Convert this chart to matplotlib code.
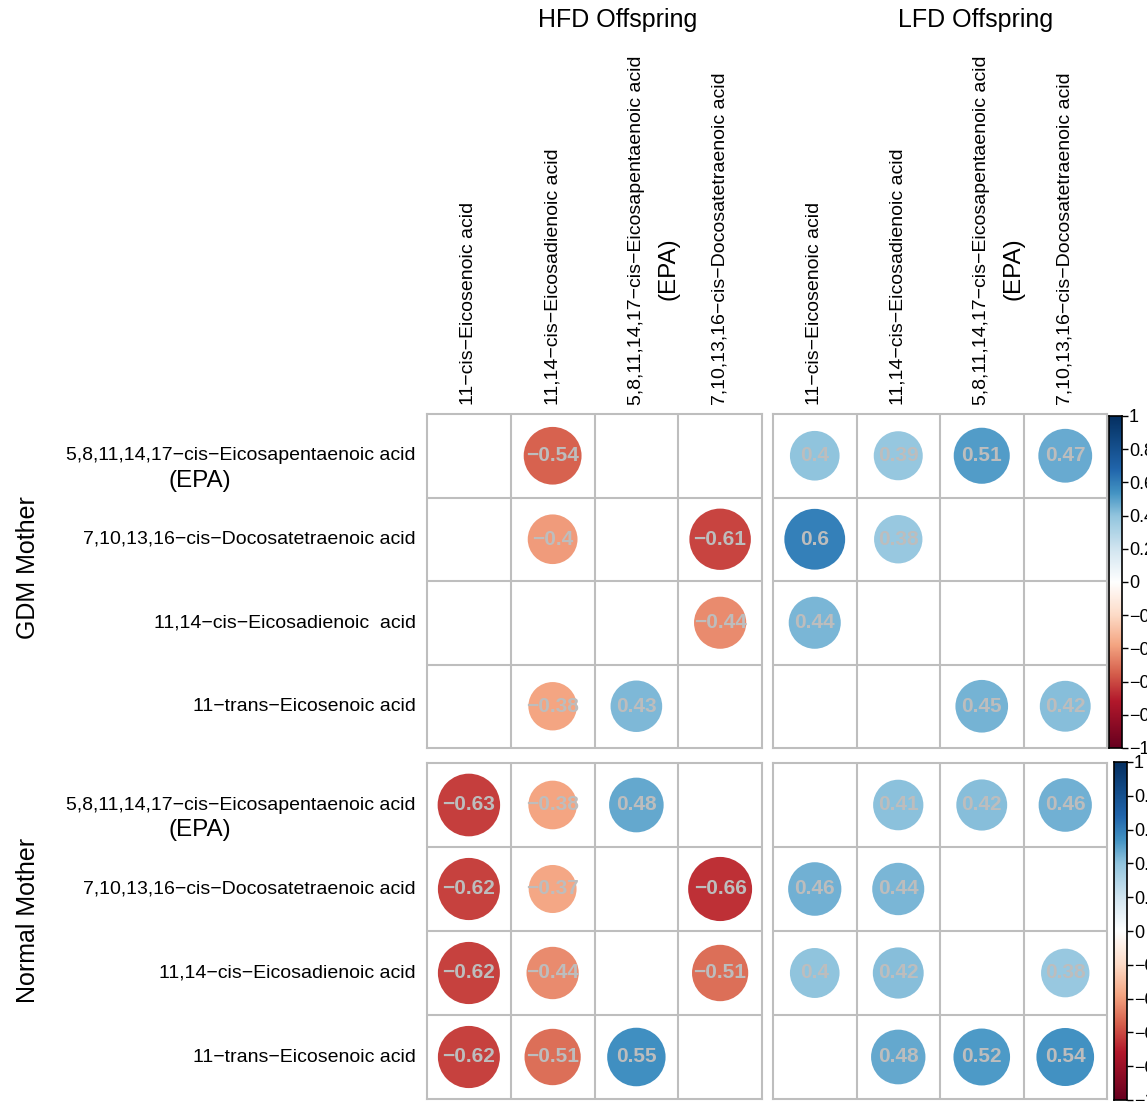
import matplotlib
matplotlib.use('Agg')
import matplotlib.pyplot as plt
from matplotlib.colors import LinearSegmentedColormap
from matplotlib.patches import Circle
import numpy as np

plt.rcParams['font.family'] = ['Liberation Sans', 'DejaVu Sans']

W, H = 1147, 1103
nan = np.nan

# ---- data ----
offspring_groups = ['HFD Offspring', 'LFD Offspring']
mother_groups = ['GDM Mother', 'Normal Mother']
col_labels = ['11−cis−Eicosenoic acid',
              '11,14−cis−Eicosadienoic acid',
              '5,8,11,14,17−cis−Eicosapentaenoic acid\n(EPA)',
              '7,10,13,16−cis−Docosatetraenoic acid']
row_labels_gdm = ['5,8,11,14,17−cis−Eicosapentaenoic acid\n(EPA)',
                  '7,10,13,16−cis−Docosatetraenoic acid',
                  '11,14−cis−Eicosadienoic  acid',
                  '11−trans−Eicosenoic acid']
row_labels_normal = ['5,8,11,14,17−cis−Eicosapentaenoic acid\n(EPA)',
                     '7,10,13,16−cis−Docosatetraenoic acid',
                     '11,14−cis−Eicosadienoic acid',
                     '11−trans−Eicosenoic acid']

gdm_hfd = [[nan, -0.54, nan, nan],
           [nan, -0.40, nan, -0.61],
           [nan, nan, nan, -0.44],
           [nan, -0.38, 0.43, nan]]
gdm_lfd = [[0.40, 0.39, 0.51, 0.47],
           [0.60, 0.38, nan, nan],
           [0.44, nan, nan, nan],
           [nan, nan, 0.45, 0.42]]
normal_hfd = [[-0.63, -0.38, 0.48, nan],
              [-0.62, -0.37, nan, -0.66],
              [-0.62, -0.44, nan, -0.51],
              [-0.62, -0.51, 0.55, nan]]
normal_lfd = [[nan, 0.41, 0.42, 0.46],
              [0.46, 0.44, nan, nan],
              [0.40, 0.42, nan, 0.38],
              [nan, 0.48, 0.52, 0.54]]

cbar_ticks = [1, 0.8, 0.6, 0.4, 0.2, 0, -0.2, -0.4, -0.6, -0.8, -1]

# red-white-blue scale, anchors tuned to the picture (value -> colour)
anchors = [(-1.0, '#67001F'), (-0.72, '#B2182B'), (-0.55, '#D6604D'),
           (-0.38, '#F4A582'), (-0.2, '#FDDBC7'), (0.0, '#FFFFFF'),
           (0.2, '#D1E5F0'), (0.4, '#92C5DE'), (0.54, '#4393C3'),
           (0.68, '#2166AC'), (1.0, '#053061')]
cmap = LinearSegmentedColormap.from_list(
    'corr_rdbu', [((v + 1) / 2, c) for v, c in anchors])

GRID = '#BEBEBE'
TXT = '#BDBDBD'

fig = plt.figure(figsize=(W / 100, H / 100), dpi=100)


def frac(box):
    x0, y0, x1, y1 = box
    return [x0 / W, 1 - y1 / H, (x1 - x0) / W, (y1 - y0) / H]


def fmt(v):
    return f'{v:g}'.replace('-', '−')


def draw_panel(box, vals):
    ax = fig.add_axes(frac(box))
    ax.set_xlim(0, 4)
    ax.set_ylim(4, 0)
    ax.set_xticks([])
    ax.set_yticks([])
    for s in ax.spines.values():
        s.set_color(GRID)
        s.set_linewidth(1.5)
    for k in range(1, 4):
        ax.axvline(k, color=GRID, lw=1.5)
        ax.axhline(k, color=GRID, lw=1.5)
    for i in range(4):
        for j in range(4):
            v = vals[i][j]
            if np.isnan(v):
                continue
            r = 0.47 * np.sqrt(abs(v))
            ax.add_patch(Circle((j + 0.5, i + 0.5), r, facecolor=cmap((v + 1) / 2),
                                edgecolor='none', zorder=3))
            ax.text(j + 0.5, i + 0.5, fmt(v), ha='center', va='center',
                    fontsize=15, fontweight='bold', color=TXT, zorder=4)
    return ax


def draw_cbar(box):
    cax = fig.add_axes(frac(box))
    grad = np.linspace(-1, 1, 256).reshape(-1, 1)
    cax.imshow(grad, cmap=cmap, vmin=-1, vmax=1, aspect='auto', origin='lower',
               extent=[0, 1, -1, 1])
    cax.set_xticks([])
    cax.yaxis.tick_right()
    cax.set_yticks(cbar_ticks)
    cax.set_yticklabels([fmt(t) for t in cbar_ticks], fontsize=13)
    cax.tick_params(axis='y', length=4, width=1, pad=1)
    for s in cax.spines.values():
        s.set_linewidth(1.2)


# panel boxes in pixels (x0, y0, x1, y1)
col_x = [(427, 762), (773, 1107)]
row_y = [(414, 748), (763, 1099)]
data = [[gdm_hfd, gdm_lfd], [normal_hfd, normal_lfd]]
row_labels = [row_labels_gdm, row_labels_normal]

for r in range(2):
    for c in range(2):
        box = (col_x[c][0], row_y[r][0], col_x[c][1], row_y[r][1])
        draw_panel(box, data[r][c])

draw_cbar((1109, 416, 1122, 748))
draw_cbar((1114, 762, 1127, 1100))

# column labels
for c in range(2):
    x0, x1 = col_x[c]
    cw = (x1 - x0) / 4
    for j, lab in enumerate(col_labels):
        x = x0 + (j + 0.5) * cw
        lines = lab.split('\n')
        fig.text(x / W, 1 - 405 / H, lines[0], rotation=90, ha='center', va='bottom', fontsize=14)
        if len(lines) > 1:
            fig.text((x + 32) / W, 1 - 269 / H, lines[1], rotation=90, ha='center', va='center',
                     fontsize=17.5)

# row labels
for r in range(2):
    y0, y1 = row_y[r]
    ch = (y1 - y0) / 4
    for i, lab in enumerate(row_labels[r]):
        y = y0 + (i + 0.5) * ch
        lines = lab.split('\n')
        fig.text(416 / W, 1 - y / H, lines[0], ha='right', va='center', fontsize=14)
        if len(lines) > 1:
            fig.text(200 / W, 1 - (y + 25) / H, lines[1], ha='center', va='center', fontsize=17.5)

# group titles
fig.text(618 / W, 1 - 20 / H, offspring_groups[0], ha='center', va='center', fontsize=18)
fig.text(976 / W, 1 - 20 / H, offspring_groups[1], ha='center', va='center', fontsize=18)
fig.text(28 / W, 1 - 568 / H, mother_groups[0], rotation=90, ha='center', va='center', fontsize=18)
fig.text(28 / W, 1 - 920 / H, mother_groups[1], rotation=90, ha='center', va='center', fontsize=18)

fig.savefig('out.png', dpi=100)
